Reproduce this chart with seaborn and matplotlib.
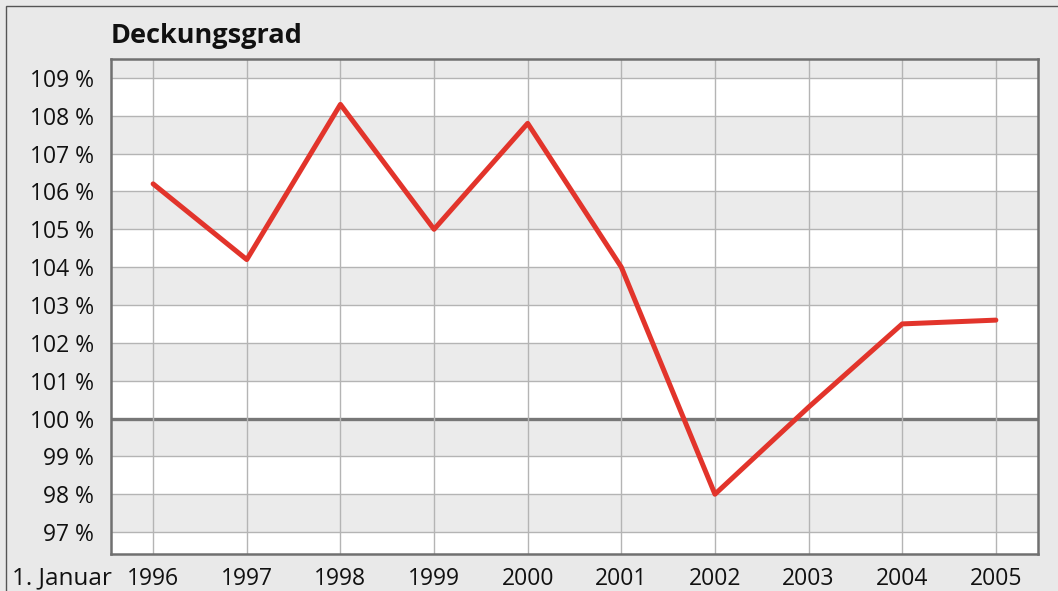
import numpy as np
import pandas as pd
import matplotlib.pyplot as plt
import seaborn as sns
from matplotlib.patches import Rectangle

years = [1996, 1997, 1998, 1999, 2000, 2001, 2002, 2003, 2004, 2005]
deckungsgrad = [106.2, 104.2, 108.3, 105.0, 107.8, 104.0, 98.0, 100.3, 102.5, 102.6]
y_ticks = list(range(97, 110))
y_labels = [f"{v} %" for v in y_ticks]

sns.set_theme(style="white")
plt.rcParams['font.family'] = ['Open Sans', 'DejaVu Sans']

bg = '#e9e9e9'
band = '#ebebeb'

fig = plt.figure(figsize=(10.58, 5.91), dpi=100, facecolor=bg)
ax = fig.add_axes([111 / 1058, 1 - 554 / 591, (1038 - 111) / 1058, (554 - 59) / 591])
ax.set_facecolor('white')

ymin, ymax = 96.42, 109.5
xmin, xmax = 1995.55, 2005.45

# abwechselnde Streifen
edges = [ymin] + y_ticks + [ymax]
for lo, hi in zip(edges[:-1], edges[1:]):
    if int(np.floor(lo)) % 2 == 1 and lo >= 97:
        ax.axhspan(lo, hi, color=band, zorder=0, lw=0)

for y in y_ticks:
    if y == 100:
        ax.axhline(y, color='#777777', lw=2.4, zorder=1)
    else:
        ax.axhline(y, color='#b4b4b4', lw=1.0, zorder=1)
for x in years:
    ax.axvline(x, color='#b4b4b4', lw=1.0, zorder=1)

df = pd.DataFrame({'Jahr': years, 'Deckungsgrad': deckungsgrad})
sns.lineplot(data=df, x='Jahr', y='Deckungsgrad', ax=ax, color='#e2342b',
             lw=3.6, zorder=3)

ax.set_xlim(xmin, xmax)
ax.set_ylim(ymin, ymax)
ax.set_xticks(years)
ax.set_xticklabels([str(y) for y in years], fontsize=16.5, color='#111111')
ax.set_yticks(y_ticks)
ax.set_yticklabels(y_labels, fontsize=16.5, color='#111111')
ax.tick_params(axis='x', length=0, pad=9.5)
ax.tick_params(axis='y', length=0, pad=12)
ax.set_xlabel('')
ax.set_ylabel('')
for s in ax.spines.values():
    s.set_color('#707070')
    s.set_linewidth(1.8)

ax.text(0.001, -(578 - 554) / 495, '1. Januar', transform=ax.transAxes,
        ha='right', va='center', fontsize=17.5, color='#111111')
ax.text(0.0, 1.02, 'Deckungsgrad', transform=ax.transAxes, ha='left', va='bottom',
        fontsize=19.5, fontweight='bold', color='#111111')

# Rahmen oben und links
fig.patches.append(Rectangle((6 / 1058, -0.1), 1.2, 1 - 6 / 591 + 0.1,
                             transform=fig.transFigure, fill=False,
                             edgecolor='#555555', lw=1.0))

fig.savefig('out.png', dpi=100, facecolor=bg)
